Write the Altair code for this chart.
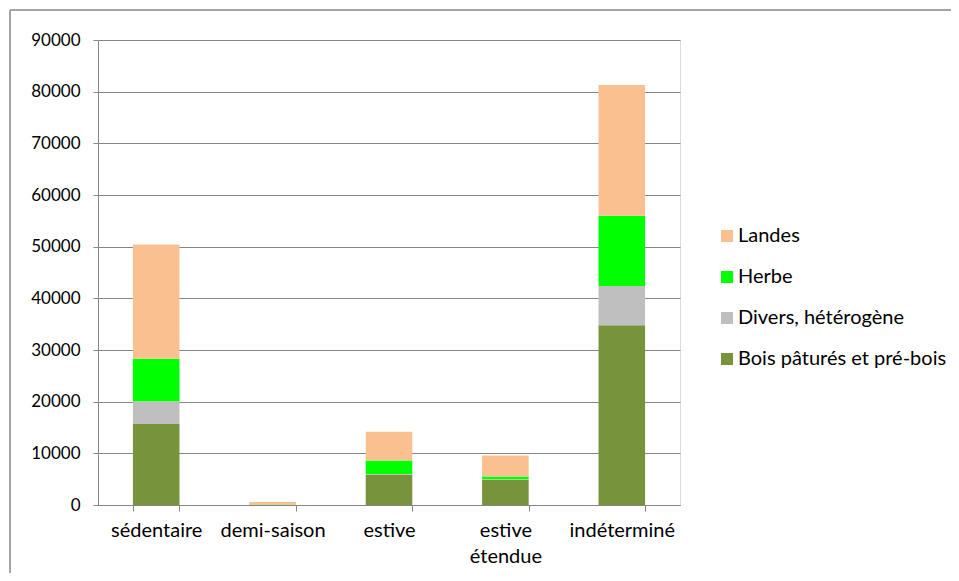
import altair as alt
import pandas as pd

categories = ["sédentaire", "demi-saison", "estive", "estive étendue", "indéterminé"]
series = ["Bois pâturés et pré-bois", "Divers, hétérogène", "Herbe", "Landes"]
bois = [15700, 50, 5900, 4900, 34800]
divers = [4400, 0, 100, 100, 7600]
herbe = [8200, 50, 2600, 500, 13600]
landes = [22100, 500, 5600, 4100, 25300]
colors = ["#77933C", "#BFBFBF", "#00FF00", "#FAC090"]
y_ticks = [0, 10000, 20000, 30000, 40000, 50000, 60000, 70000, 80000, 90000]

rows = []
for si, (name, vals) in enumerate(zip(series, [bois, divers, herbe, landes])):
    for c, v in zip(categories, vals):
        rows.append({"cat": c, "serie": name, "value": v, "idx": si})
df = pd.DataFrame(rows)

FONT = "Lato"
GRID = "#868686"

bars = alt.Chart(df).mark_bar().encode(
    x=alt.X("cat:N", sort=categories, title=None,
            scale=alt.Scale(paddingInner=0.6, paddingOuter=0.3),
            axis=alt.Axis(labelAngle=0, tickBand="extent", tickSize=6, domainColor=GRID,
                          tickColor=GRID, labelColor="#000000", labelFont=FONT,
                          labelFontSize=20, labelPadding=9, labelLineHeight=26,
                          labelExpr="datum.label == 'estive étendue' ? ['estive', 'étendue'] : datum.label")),
    y=alt.Y("value:Q", stack="zero", title=None,
            scale=alt.Scale(domain=[0, 90000], nice=False),
            axis=alt.Axis(values=y_ticks, format="d", grid=True, gridColor=GRID, gridWidth=1,
                          domainColor=GRID, tickColor=GRID, tickSize=5,
                          labelColor="#000000", labelFont=FONT, labelFontSize=17,
                          labelPadding=13)),
    color=alt.Color("serie:N",
                    scale=alt.Scale(domain=series[::-1], range=colors[::-1]),
                    legend=alt.Legend(title=None, orient="none", legendX=619, legendY=186,
                                      symbolType="square", symbolSize=144,
                                      symbolStrokeWidth=0, labelFont=FONT,
                                      labelFontSize=20, labelColor="#000000",
                                      labelLimit=400, rowPadding=21, labelOffset=1)),
    order=alt.Order("idx:Q", sort="ascending"),
)

dummy = pd.DataFrame({"a": [0]})
top_line = alt.Chart(dummy).mark_rule(color=GRID, strokeWidth=1.5).encode(
    x=alt.value(-88), x2=alt.value(900), y=alt.value(-30))
left_line = alt.Chart(dummy).mark_rule(color=GRID, strokeWidth=1.5).encode(
    x=alt.value(-88), y=alt.value(-30), y2=alt.value(600))

chart = alt.layer(top_line, left_line, bars).properties(
    width=582, height=465,
    autosize=alt.AutoSizeParams(type="none"),
    padding={"left": 90, "top": 32, "right": 271, "bottom": 68},
).configure_view(stroke=None).configure(background="white")

chart.save("out.html", embed_options={"renderer": "svg", "actions": False})
